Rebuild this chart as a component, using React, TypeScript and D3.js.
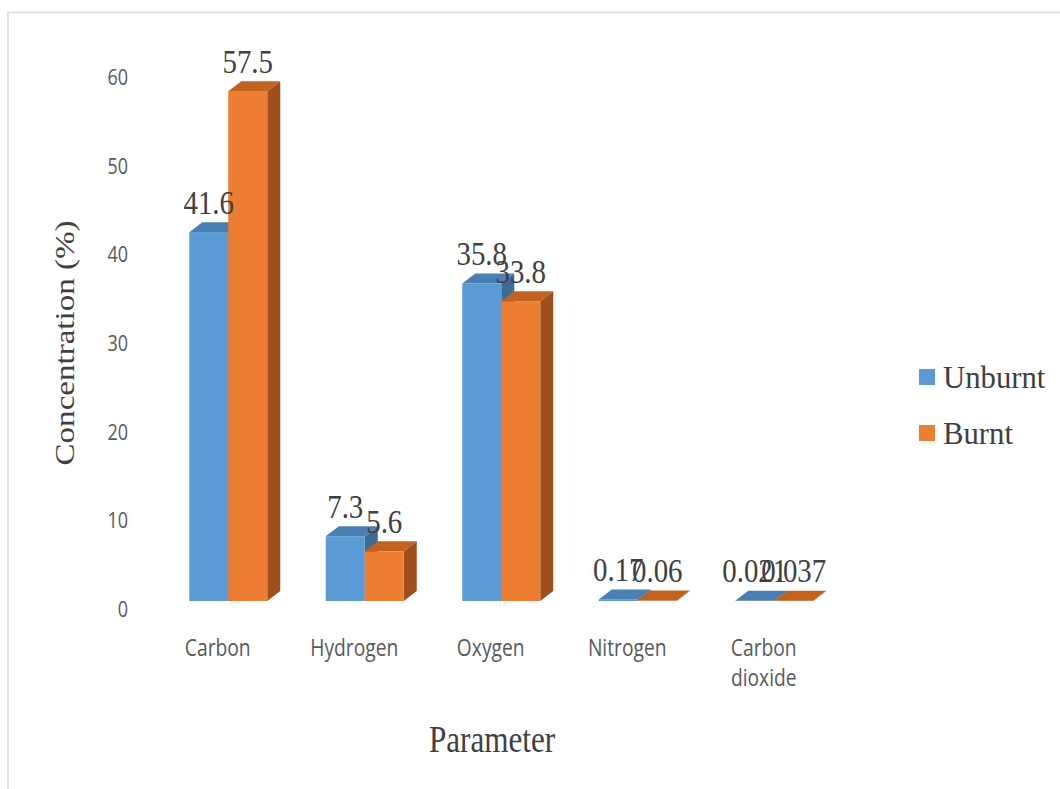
import React from "react";
import * as d3 from "d3";

// Elemental composition of the sample before and after burning
const categories: string[][] = [["Carbon"], ["Hydrogen"], ["Oxygen"], ["Nitrogen"], ["Carbon", "dioxide"]];
const seriesNames = ["Unburnt", "Burnt"];
const unburnt = [41.6, 7.3, 35.8, 0.17, 0.021];
const burnt = [57.5, 5.6, 33.8, 0.06, 0.037];
const yTicks = [0, 10, 20, 30, 40, 50, 60];

const W = 1060;
const H = 789;

const SERIF = "'Liberation Serif', 'Times New Roman', serif";
const SANS = "'Open Sans', 'Noto Sans', sans-serif";

const palette = {
  Unburnt: { front: "#5B9BD5", top: "#4a7fb3", side: "#3d6b98" },
  Burnt: { front: "#ED7D31", top: "#c2621f", side: "#9f4f1b" },
};

// oblique depth of the 3-D columns
const DX = 13;
const DY = -10;

type TxtProps = {
  x: number;
  y: number;
  sx?: number;
  size: number;
  family: string;
  fill: string;
  anchor?: "start" | "middle" | "end";
  rotate?: number;
  children: React.ReactNode;
};

function Txt({ x, y, sx = 1, size, family, fill, anchor = "middle", rotate = 0, children }: TxtProps) {
  return (
    <text
      transform={`translate(${x},${y}) rotate(${rotate}) scale(${sx},1)`}
      fontSize={size}
      fontFamily={family}
      fill={fill}
      textAnchor={anchor}
    >
      {children}
    </text>
  );
}

export default function App() {
  const keys = categories.map((c) => c.join(" "));
  const x0 = d3
    .scaleBand<string>()
    .domain(keys)
    .range([160, 842.5])
    .paddingInner(0.4286)
    .paddingOuter(0.2143);
  const x1 = d3.scaleBand<string>().domain(seriesNames).range([0, x0.bandwidth()]);
  const y = d3.scaleLinear().domain([0, 60]).range([601, 69]);

  const values: Record<string, number[]> = { Unburnt: unburnt, Burnt: burnt };

  const bars = keys.flatMap((k, i) =>
    seriesNames.map((s) => {
      const v = values[s][i];
      const bx = (x0(k) ?? 0) + (x1(s) ?? 0);
      const w = x1.bandwidth();
      const yt = y(v);
      const y0 = y(0);
      const c = palette[s as keyof typeof palette];
      const top = [
        [bx, yt],
        [bx + w, yt],
        [bx + w + DX, yt + DY],
        [bx + DX, yt + DY],
      ];
      const side = [
        [bx + w, yt],
        [bx + w + DX, yt + DY],
        [bx + w + DX, y0 + DY],
        [bx + w, y0],
      ];
      const pts = (p: number[][]) => p.map((q) => q.join(",")).join(" ");
      return (
        <g key={`${k}-${s}`}>
          <polygon points={pts(side)} fill={c.side} />
          <rect x={bx} y={yt} width={w} height={y0 - yt} fill={c.front} />
          <polygon points={pts(top)} fill={c.top} />
        </g>
      );
    })
  );

  const labels = keys.flatMap((k, i) =>
    seriesNames.map((s) => {
      const v = values[s][i];
      const cx = (x0(k) ?? 0) + (x1(s) ?? 0) + x1.bandwidth() / 2;
      return (
        <Txt key={`l-${k}-${s}`} x={cx} y={y(v) - 18.5} size={34} sx={0.85} family={SERIF} fill="#404040">
          {String(v)}
        </Txt>
      );
    })
  );

  return (
    <svg width={W} height={H} style={{ position: "absolute", left: 0, top: 0, background: "#fff" }}>
      <rect x={0} y={0} width={W} height={H} fill="#ffffff" />
      <rect x={8} y={12.5} width={1200} height={900} fill="none" stroke="#d9d9d9" strokeWidth={1.5} />

      {/* value axis labels */}
      {yTicks.map((t) => (
        <Txt key={`t${t}`} x={128} y={y(t) + 16} size={22} sx={0.82} family={SANS} fill="#595959" anchor="end">
          {t}
        </Txt>
      ))}

      {/* columns */}
      {bars}

      {/* data labels */}
      {labels}

      {/* category labels */}
      {categories.map((lines, i) => {
        const k = keys[i];
        const cx = (x0(k) ?? 0) + x0.bandwidth() / 2 - 10.5;
        return lines.map((ln, j) => (
          <Txt key={`c-${k}-${j}`} x={cx} y={656 + j * 30} size={23.5} sx={0.82} family={SANS} fill="#595959">
            {ln}
          </Txt>
        ));
      })}

      {/* axis titles */}
      <Txt x={74} y={343} rotate={-90} size={28} sx={1.18} family={SERIF} fill="#404040">
        Concentration (%)
      </Txt>
      <Txt x={492} y={752} size={38} sx={0.82} family={SERIF} fill="#404040">
        Parameter
      </Txt>

      {/* legend */}
      {seriesNames.map((s, i) => {
        const c = palette[s as keyof typeof palette];
        const yy = 369 + i * 56;
        return (
          <g key={`lg-${s}`}>
            <rect x={919} y={yy} width={16} height={16} fill={c.front} />
            <Txt x={943} y={yy + 19} size={32} sx={0.96} family={SERIF} fill="#404040" anchor="start">
              {s}
            </Txt>
          </g>
        );
      })}
    </svg>
  );
}
